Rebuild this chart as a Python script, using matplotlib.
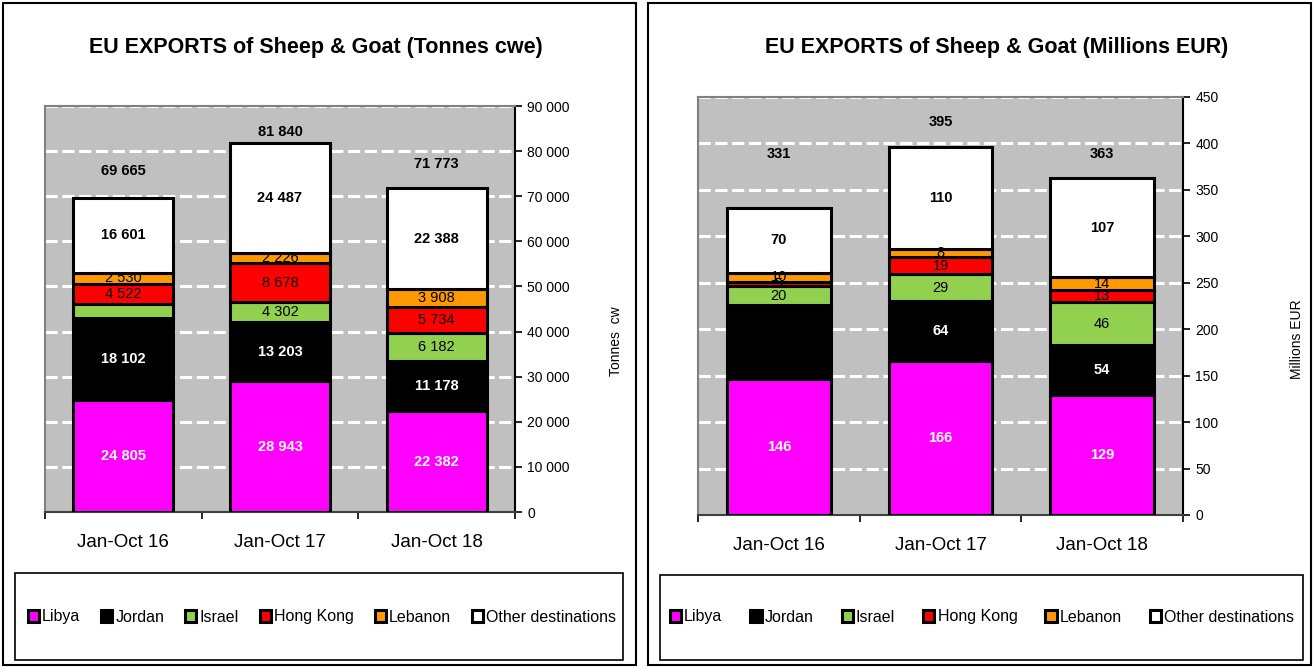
import matplotlib.pyplot as plt
from matplotlib.patches import Rectangle, Patch
from matplotlib.ticker import FuncFormatter, FixedLocator

# data
periods = ["Jan-Oct 16", "Jan-Oct 17", "Jan-Oct 18"]
destinations = ["Libya", "Jordan", "Israel", "Hong Kong", "Lebanon", "Other destinations"]
colors = ["#FF00FF", "#000000", "#92D050", "#FF0000", "#FF9900", "#FFFFFF"]

# tonnes cwe
ton_libya = [24805, 28943, 22382]
ton_jordan = [18102, 13203, 11178]
ton_israel = [3105, 4302, 6182]
ton_hongkong = [4522, 8678, 5734]
ton_lebanon = [2530, 2226, 3908]
ton_other = [16601, 24487, 22388]
ton_totals = [69665, 81840, 71773]

# millions EUR
eur_libya = [146, 166, 129]
eur_jordan = [80, 64, 54]
eur_israel = [20, 29, 46]
eur_hongkong = [5, 19, 13]
eur_lebanon = [10, 8, 14]
eur_other = [70, 110, 107]
eur_totals = [331, 395, 363]

W, H = 1314, 668
plt.rcParams["font.family"] = ["Liberation Sans", "DejaVu Sans"]

fig = plt.figure(figsize=(W / 100, H / 100), dpi=100)


def fbox(x0, y0, x1, y1):
    return [x0 / W, 1 - y1 / H, (x1 - x0) / W, (y1 - y0) / H]


def frame(x0, y0, x1, y1, lw=1.5):
    fig.patches.append(Rectangle((x0 / W, 1 - y1 / H), (x1 - x0) / W, (y1 - y0) / H,
                                 transform=fig.transFigure, fill=False,
                                 edgecolor="black", linewidth=lw))


def space_fmt(v, pos=None):
    return f"{int(v):,}".replace(",", " ")


def draw_chart(ax, series, totals, ymax, step, hidden, total_offsets):
    x = range(len(periods))
    bottoms = [0] * len(periods)
    for i, vals in enumerate(series):
        ax.bar(x, vals, width=0.64, bottom=bottoms, color=colors[i],
               edgecolor="black", linewidth=2.2, zorder=3)
        for j, v in enumerate(vals):
            if (i, j) in hidden:
                continue
            txt_color = "white" if i < 2 else "black"
            weight = "bold" if i in (0, 1, 5) else "normal"
            ax.text(j, bottoms[j] + v / 2, space_fmt(v), ha="center", va="center",
                    color=txt_color, fontsize=10.5, fontweight=weight, zorder=4)
        bottoms = [b + v for b, v in zip(bottoms, vals)]
    for j, t in enumerate(totals):
        ax.annotate(space_fmt(t), (j, bottoms[j]), xytext=(0, total_offsets[j]),
                    textcoords="offset pixels", ha="center", va="center",
                    fontsize=10.5, fontweight="bold", zorder=4)

    ax.set_facecolor("#C0C0C0")
    ax.set_xlim(-0.5, 2.5)
    ax.set_ylim(0, ymax)
    ax.yaxis.set_major_locator(FixedLocator(range(0, ymax + 1, step)))
    ax.yaxis.set_major_formatter(FuncFormatter(space_fmt))
    ax.yaxis.tick_right()
    ax.yaxis.set_label_position("right")
    ax.tick_params(axis="y", direction="out", length=5, width=1.2, labelsize=10, pad=4)
    ax.grid(axis="y", color="white", linestyle=(0, (4, 1.5)), linewidth=2.2, zorder=1)
    ax.set_xticks(list(x))
    ax.set_xticklabels(periods, fontsize=13.5)
    ax.set_xticks([-0.5, 0.5, 1.5, 2.5], minor=True)
    ax.tick_params(axis="x", which="major", length=0, pad=16)
    ax.tick_params(axis="x", which="minor", length=5, width=1.2, direction="out")
    for side in ("top", "left"):
        ax.spines[side].set_color("#808080")
        ax.spines[side].set_linewidth(1.5)
    ax.spines["right"].set_linewidth(1.5)
    ax.spines["bottom"].set_linewidth(1.5)
    ax.spines["bottom"].set_color("#404040")


handles = [Patch(facecolor=c, edgecolor="black", linewidth=2.2) for c in colors]

# left panel: tonnes
frame(3, 3, 636, 665)
frame(15, 573, 623, 660, lw=1.2)
ax1 = fig.add_axes(fbox(45, 106, 515, 512))
draw_chart(ax1, [ton_libya, ton_jordan, ton_israel, ton_hongkong, ton_lebanon, ton_other],
           ton_totals, 90000, 10000, {(2, 0)}, [27, 11, 24])
ax1.set_ylabel("Tonnes  cw", fontsize=10, rotation=90)
ax1.yaxis.set_label_coords(1.2, 0.42)
fig.text(316 / W, 1 - 47 / H, "EU EXPORTS of Sheep & Goat (Tonnes cwe)", ha="center",
         va="center", fontsize=15.5, fontweight="bold")
fig.legend(handles, destinations, loc="center", bbox_to_anchor=(322 / W, 1 - 617 / H),
           ncol=6, frameon=False, fontsize=11.5, handlelength=0.7, handleheight=0.7,
           handletextpad=0.2, columnspacing=1.3)

# right panel: millions EUR
frame(648, 3, 1311, 665)
frame(660, 575, 1303, 660, lw=1.2)
ax2 = fig.add_axes(fbox(698, 97, 1183, 515))
draw_chart(ax2, [eur_libya, eur_jordan, eur_israel, eur_hongkong, eur_lebanon, eur_other],
           eur_totals, 450, 50, {(1, 0)}, [54, 25, 24])
ax2.set_ylabel("Millions EUR", fontsize=10, rotation=90)
ax2.yaxis.set_label_coords(1.22, 0.42)
fig.text(997 / W, 1 - 47 / H, "EU EXPORTS of Sheep & Goat (Millions EUR)", ha="center",
         va="center", fontsize=15.5, fontweight="bold")
fig.legend(handles, destinations, loc="center", bbox_to_anchor=(982 / W, 1 - 617 / H),
           ncol=6, frameon=False, fontsize=11.5, handlelength=0.7, handleheight=0.7,
           handletextpad=0.2, columnspacing=1.75)

fig.savefig("out.png", dpi=100)
